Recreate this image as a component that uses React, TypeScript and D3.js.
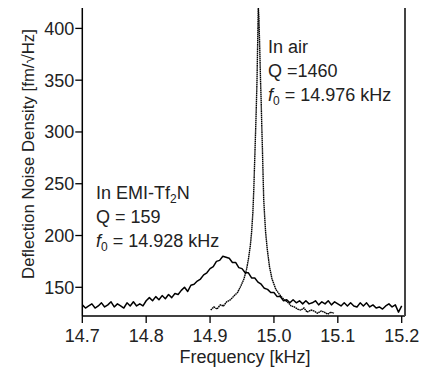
import React from 'react';
import * as d3 from 'd3';

// EMI-Tf2N spectrum, frequency step 0.005 kHz from 14.700
const emiStart = 14.7;
const emiStep = 0.005;
const emiValues = [
  133, 130, 132, 134, 130, 132, 135, 131, 133, 136, 131, 134, 132, 130, 135, 132, 136, 132, 134, 132,
  137, 140, 137, 141, 138, 142, 139, 143, 140, 144, 143, 147, 150, 146, 152, 153, 156, 158, 162, 164,
  168, 170, 175, 176, 180, 179, 178, 174, 174, 169, 168, 164, 164, 159, 159, 155, 153, 149, 148, 145,
  145, 141, 141, 137, 138, 135, 138, 135, 137, 134, 137, 134, 135, 137, 133, 136, 134, 137, 133, 136,
  134, 132, 135, 132, 135, 132, 131, 135, 132, 135, 131, 133, 130, 131, 129, 132, 134, 131, 133, 126,
  132,
];

// air spectrum (frequency kHz, density)
const airFreq = [
  14.901, 14.906, 14.911, 14.916, 14.921, 14.926, 14.932, 14.938, 14.943, 14.948, 14.953, 14.957,
  14.96, 14.963, 14.965, 14.967, 14.9685, 14.9695, 14.9705, 14.972, 14.9735, 14.9745, 14.9755,
  14.9765, 14.9778, 14.979, 14.98, 14.981, 14.982, 14.983, 14.984, 14.9855, 14.987, 14.9895, 14.993,
  14.997, 15.003, 15.01, 15.016, 15.021, 15.027, 15.032, 15.037, 15.042, 15.047, 15.052, 15.058,
  15.063, 15.068, 15.074, 15.079, 15.084, 15.089, 15.094,
];
const airValues = [
  128, 131, 129, 133, 132, 136, 138, 142, 145, 151, 158, 167,
  177, 190, 203, 222, 245, 265, 285, 315, 350, 385, 421,
  410, 380, 350, 330, 305, 283, 258, 235, 218, 203, 187, 170,
  158, 148, 142, 138, 136, 132, 131, 129, 128, 130, 126, 128,
  127, 125, 127, 126, 124, 126, 125,
];

const xTicks = [14.7, 14.8, 14.9, 15.0, 15.1, 15.2];
const yTicks = [150, 200, 250, 300, 350, 400];

const font = 'Liberation Sans, Arial, Helvetica, sans-serif';

export default function App() {
  const width = 428;
  const height = 367;
  const left = 82.3, right = 405, top = 8, bottom = 316;

  const x = d3.scaleLinear().domain([14.7, 15.2]).range([left, 401.7]);
  const y = d3.scaleLinear().domain([150, 400]).range([287.3, 28.4]);

  const emi: [number, number][] = emiValues.map((v, i) => [emiStart + i * emiStep, v]);
  const air: [number, number][] = airValues.map((v, i) => [airFreq[i], v]);

  const line = d3.line<[number, number]>().x(d => x(d[0])).y(d => y(d[1]));

  return (
    <svg width={width} height={height} style={{ position: 'absolute', left: 0, top: 0, background: 'white' }}
      fontFamily={font}>
      <defs>
        <clipPath id="plot">
          <rect x={left} y={top} width={right - left} height={bottom - top} />
        </clipPath>
      </defs>
      <g clipPath="url(#plot)">
        <path d={line(emi) || ''} fill="none" stroke="#000" strokeWidth={1.5} strokeLinejoin="round" />
        <path d={line(air) || ''} fill="none" stroke="#000" strokeWidth={1.4} strokeDasharray="1.6,0.5" />
      </g>

      {/* axes */}
      <line x1={left} x2={left} y1={top} y2={bottom} stroke="#000" strokeWidth={1.5} />
      <line x1={left} x2={right} y1={bottom} y2={bottom} stroke="#000" strokeWidth={1.5} />
      <line x1={right} x2={right} y1={top} y2={bottom} stroke="#444" strokeWidth={2} />

      {yTicks.map(t => (
        <g key={t}>
          <line x1={left - 7} x2={left} y1={y(t)} y2={y(t)} stroke="#000" strokeWidth={1.3} />
          <text x={left - 8} y={y(t) + 6.5} fontSize={18} textAnchor="end" fill="#222">{t}</text>
        </g>
      ))}
      {xTicks.map(t => (
        <g key={t}>
          <line x1={x(t)} x2={x(t)} y1={bottom} y2={bottom + 7} stroke="#000" strokeWidth={1.3} />
          <text x={x(t)} y={341.5} fontSize={18} textAnchor="middle" fill="#222">{t.toFixed(1)}</text>
        </g>
      ))}

      <text x={245} y={362.5} fontSize={18} textAnchor="middle" fill="#222">Frequency [kHz]</text>
      <text transform="translate(34,154) rotate(-90)" fontSize={16.8} textAnchor="middle" fill="#222">
        Deflection Noise Density [fm/√Hz]
      </text>

      {/* annotations */}
      <g fontSize={18} fill="#222">
        <text x={268} y={53}>In air</text>
        <text x={268} y={77}>Q =1460</text>
        <text x={268} y={100.5}>
          <tspan fontStyle="italic">f</tspan><tspan fontSize={12} dy={4}>0</tspan><tspan dy={-4}> = 14.976 kHz</tspan>
        </text>
        <text x={96} y={199}>
          In EMI-Tf<tspan fontSize={12} dy={4}>2</tspan><tspan dy={-4}>N</tspan>
        </text>
        <text x={96} y={223}>Q = 159</text>
        <text x={96} y={247}>
          <tspan fontStyle="italic">f</tspan><tspan fontSize={12} dy={4}>0</tspan><tspan dy={-4}> = 14.928 kHz</tspan>
        </text>
      </g>
    </svg>
  );
}
